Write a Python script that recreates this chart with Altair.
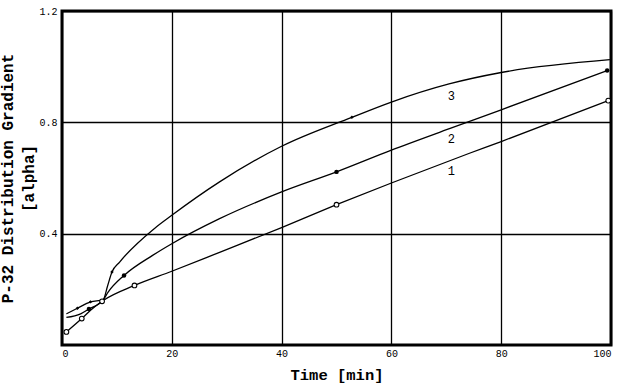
import altair as alt
import pandas as pd

# Curve data: time [min] and alpha
t1 = [0.8, 3.6, 5.2, 7.5, 13.2, 20, 28.7, 40, 50, 60, 74.1, 80, 99.5]
a1 = [0.047, 0.095, 0.125, 0.160, 0.214, 0.265, 0.333, 0.422, 0.504, 0.582, 0.688, 0.731, 0.878]

t2 = [0.8, 3.4, 4.9, 7.5, 8.4, 11.3, 16.5, 20, 28.7, 40, 50, 60, 70.7, 80, 99.3]
a2 = [0.099, 0.112, 0.129, 0.162, 0.190, 0.250, 0.322, 0.364, 0.454, 0.550, 0.622, 0.700, 0.778, 0.845, 0.986]

t3 = [0.8, 2.8, 5.2, 7.5, 8.3, 9.1, 10.5, 16.8, 20, 28.7, 40, 52.8, 60, 70.5, 80, 99.8]
a3 = [0.112, 0.132, 0.155, 0.163, 0.212, 0.262, 0.298, 0.418, 0.466, 0.586, 0.714, 0.818, 0.873, 0.938, 0.979, 1.025]

# Marker positions
mk1_t = [0.8, 3.6, 7.3, 13.2, 50, 99.5]
mk1_a = [0.047, 0.095, 0.157, 0.214, 0.504, 0.878]
mk2_t = [4.9, 11.3, 50, 99.3]
mk2_a = [0.129, 0.250, 0.622, 0.986]
mk3_t = [2.8, 5.2, 9.1, 52.8]
mk3_a = [0.132, 0.155, 0.262, 0.818]

# Curve labels
lab_text = ["1", "2", "3"]
lab_t = [70.9, 70.9, 70.9]
lab_a = [0.626, 0.740, 0.895]

x_ticks = [0, 20, 40, 60, 80, 100]
y_ticks = [0.4, 0.8, 1.2]

FONT = "Liberation Mono"

lines = pd.concat([
    pd.DataFrame({"t": t1, "a": a1, "curve": "1"}),
    pd.DataFrame({"t": t2, "a": a2, "curve": "2"}),
    pd.DataFrame({"t": t3, "a": a3, "curve": "3"}),
])
m1 = pd.DataFrame({"t": mk1_t, "a": mk1_a})
m2 = pd.DataFrame({"t": mk2_t, "a": mk2_a})
m3 = pd.DataFrame({"t": mk3_t, "a": mk3_a})
labs = pd.DataFrame({"t": lab_t, "a": lab_a, "txt": lab_text})

xscale = alt.Scale(domain=[0, 100], nice=False)
yscale = alt.Scale(domain=[0, 1.2], nice=False)

xenc = alt.X("t:Q", scale=xscale, axis=alt.Axis(
    values=x_ticks, title="Time [min]", grid=True, ticks=False, domain=False,
    labelFont=FONT, labelFontSize=10, labelColor="black", labelPadding=3,
    titleFont=FONT, titleFontSize=15.5, titleFontWeight="bold", titleColor="black",
    titlePadding=9, gridColor="black", gridWidth=1.3, gridOpacity=1))
yenc = alt.Y("a:Q", scale=yscale, axis=alt.Axis(
    values=y_ticks, format=".1f", title=["P-32 Distribution Gradient", "[alpha]"],
    grid=True, ticks=False, domain=False,
    labelFont=FONT, labelFontSize=10, labelColor="black", labelPadding=5,
    titleFont=FONT, titleFontSize=16, titleFontWeight="bold", titleColor="black",
    titlePadding=2, titleLineHeight=21,
    gridColor="black", gridWidth=1.3, gridOpacity=1))

line_layer = alt.Chart(lines).mark_line(
    color="black", strokeWidth=1.3, interpolate="monotone"
).encode(x=xenc, y=yenc, detail="curve:N")

p1 = alt.Chart(m1).mark_point(shape="circle", filled=False, color="black",
                              size=22, strokeWidth=1.1, opacity=1,
                              fill="white").encode(x="t:Q", y="a:Q")
p2 = alt.Chart(m2).mark_point(shape="circle", filled=True, color="black",
                              size=20, opacity=1).encode(x="t:Q", y="a:Q")
p3 = alt.Chart(m3).mark_point(shape="diamond", filled=True, color="black",
                              size=12, opacity=1).encode(x="t:Q", y="a:Q")

txt = alt.Chart(labs).mark_text(font=FONT, fontSize=12, color="black").encode(
    x="t:Q", y="a:Q", text="txt:N")

chart = alt.layer(line_layer, p1, p2, p3, txt).properties(
    width=549, height=334,
    autosize=alt.AutoSizeParams(type="none"),
    padding={"left": 62, "top": 11, "right": 13, "bottom": 44},
    background="white",
).configure_view(stroke="black", strokeWidth=3)

chart.save("out.html", embed_options={"renderer": "svg", "actions": False})
